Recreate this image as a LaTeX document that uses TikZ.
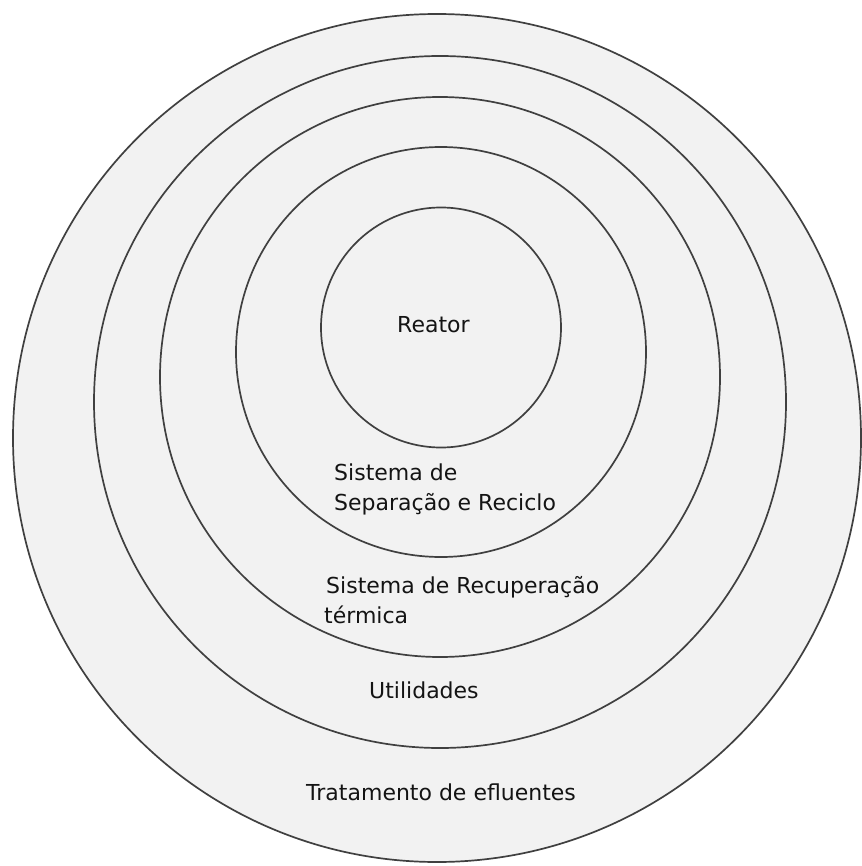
\documentclass[tikz,border=0pt]{standalone}
\usepackage{fontspec}
\setmainfont{DejaVu Sans}
\definecolor{ringline}{RGB}{64,64,64}
\definecolor{ringfill}{RGB}{242,242,242}
\definecolor{txt}{RGB}{20,20,20}
\begin{document}
\begin{tikzpicture}[x=1pt,y=-1pt,
  ring/.style={circle,draw=ringline,fill=ringfill,line width=1.7pt,inner sep=0pt},
  lbl/.style={anchor=base west,inner sep=0pt,text=txt,font=\fontsize{22}{26}\selectfont}]
\useasboundingbox[fill=white] (0,0) rectangle (861,866);
\node[ring,minimum size=848pt] (c5) at (437,438) {};
\node[ring,minimum size=692pt] (c4) at (440,402) {};
\node[ring,minimum size=560pt] (c3) at (440,377) {};
\node[ring,minimum size=410pt] (c2) at (441,352) {};
\node[ring,minimum size=240pt] (c1) at (441,327.5) {};
\node[lbl] (t1) at (397,332) {Reator};
\node[lbl] (t2a) at (334,480) {Sistema de};
\node[lbl] (t2b) at (334,510) {Separação e Reciclo};
\node[lbl] (t3a) at (326,593) {Sistema de Recuperação};
\node[lbl] (t3b) at (324,623) {térmica};
\node[lbl] (t4) at (369,698) {Utilidades};
\node[lbl] (t5) at (306,800) {Tratamento de efluentes};
\end{tikzpicture}
\end{document}
